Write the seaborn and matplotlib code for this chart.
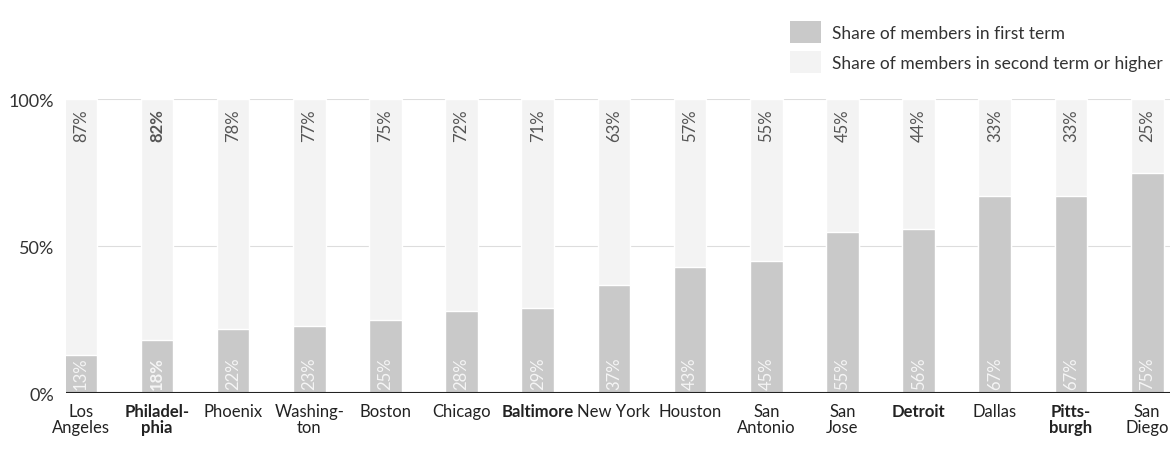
import matplotlib
matplotlib.use("Agg")
import matplotlib.pyplot as plt
import seaborn as sns
import pandas as pd
import numpy as np
from matplotlib.patches import Patch

cities = ["Los\nAngeles", "Philadel-\nphia", "Phoenix", "Washing-\nton", "Boston", "Chicago",
          "Baltimore", "New York", "Houston", "San\nAntonio", "San\nJose", "Detroit",
          "Dallas", "Pitts-\nburgh", "San\nDiego"]
first_term = [13, 18, 22, 23, 25, 28, 29, 37, 43, 45, 55, 56, 67, 67, 75]
second_term = [87, 82, 78, 77, 75, 72, 71, 63, 57, 55, 45, 44, 33, 33, 25]
bold_cities = ["Philadel-\nphia", "Baltimore", "Detroit", "Pitts-\nburgh"]
highlight = "Philadel-\nphia"

sns.set_theme(style="white")
plt.rcParams['font.family'] = ['Lato', 'DejaVu Sans']

df = pd.DataFrame({"city": cities, "first": first_term, "second": second_term})
df["total"] = df["first"] + df["second"]

fig = plt.figure(figsize=(11.7, 4.56), dpi=100)
ax = fig.add_axes([0.056, 0.135, 0.944, 0.645])

sns.barplot(data=df, x="city", y="total", color="#f3f3f3", width=0.43, ax=ax, saturation=1)
sns.barplot(data=df, x="city", y="first", color="#c9c9c9", width=0.43, ax=ax, saturation=1)

ax.set_ylim(0, 100)
ax.set_xlim(-0.2, len(cities) - 0.7)
ax.set_yticks([0, 50, 100])
ax.set_yticklabels(["0%", "50%", "100%"], fontsize=13, color="#333333")
for y in [50, 100]:
    ax.axhline(y, color="#dddddd", lw=0.8, zorder=0)
ax.axhline(0, color="#222222", lw=1.5, zorder=5)
ax.set_xlabel("")
ax.set_ylabel("")
for s in ax.spines.values():
    s.set_visible(False)
ax.tick_params(axis="y", length=0, pad=8)
ax.tick_params(axis="x", length=0, pad=7)
ax.set_xticks(range(len(cities)))
ax.set_xticklabels(cities, fontsize=12, color="#222222", linespacing=1.0)
for lbl in ax.get_xticklabels():
    if lbl.get_text() in bold_cities:
        lbl.set_fontweight("bold")

for i, (c, f, s) in enumerate(zip(cities, first_term, second_term)):
    w = "bold" if c == highlight else "normal"
    ax.text(i, 97, f"{s}%", rotation=90, ha="center", va="top", fontsize=12,
            color="#555555", fontweight=w)
    ax.text(i, 1.5, f"{f}%", rotation=90, ha="center", va="bottom", fontsize=12,
            color="#f5f5f5", fontweight=w)

handles = [Patch(facecolor="#c9c9c9", edgecolor="none", label="Share of members in first term"),
           Patch(facecolor="#f3f3f3", edgecolor="none", label="Share of members in second term or higher")]
fig.legend(handles=handles, loc="upper left", bbox_to_anchor=(0.662, 0.985), frameon=False,
           fontsize=12.5, handlelength=1.8, handleheight=1.5, handletextpad=0.6,
           labelcolor="#333333", labelspacing=0.5)

fig.savefig("out.png", dpi=100)
